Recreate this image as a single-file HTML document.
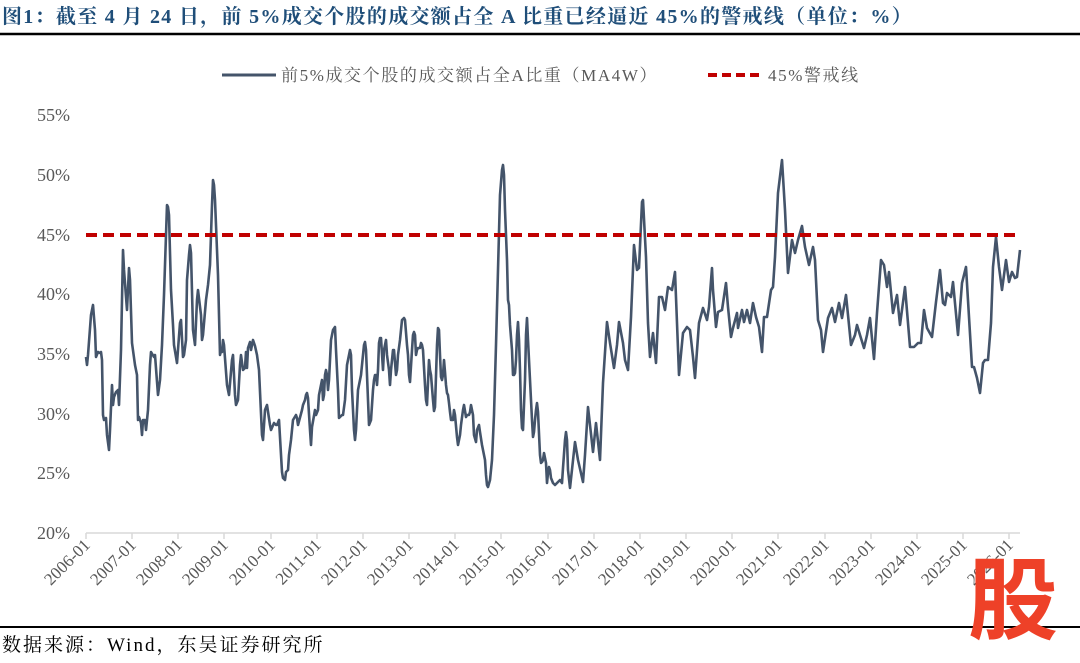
<!DOCTYPE html>
<html><head><meta charset="utf-8"><style>
body{margin:0;background:#fff;width:1080px;height:658px;overflow:hidden;}
</style></head><body>
<svg width="1080" height="658" viewBox="0 0 1080 658" xmlns="http://www.w3.org/2000/svg" font-family="'Liberation Serif','Noto Serif CJK SC',serif">
<text x="2" y="23" font-size="20" font-weight="bold" fill="#1F4E79" letter-spacing="1.3">图1：截至 4 月 24 日，前 5%成交个股的成交额占全 A 比重已经逼近 45%的警戒线（单位：%）</text>
<line x1="0" y1="34" x2="1080" y2="34" stroke="#000" stroke-width="2.5"/>
<line x1="0" y1="627" x2="1080" y2="627" stroke="#000" stroke-width="2"/>
<text x="2" y="651" font-size="19" fill="#000" letter-spacing="2">数据来源：Wind，东吴证券研究所</text>
<line x1="222" y1="75" x2="276" y2="75" stroke="#44546A" stroke-width="3"/>
<text x="281" y="81" font-size="17" fill="#595959" letter-spacing="1.6">前5%成交个股的成交额占全A比重（MA4W）</text>
<line x1="708" y1="75" x2="762" y2="75" stroke="#C00000" stroke-width="4" stroke-dasharray="9,5"/>
<text x="768" y="81" font-size="17" fill="#595959" letter-spacing="1.6">45%警戒线</text>
<g font-size="18" fill="#595959" text-anchor="end">
<text x="70" y="539">20%</text><text x="70" y="479">25%</text><text x="70" y="420">30%</text><text x="70" y="360">35%</text><text x="70" y="300">40%</text><text x="70" y="241">45%</text><text x="70" y="181">50%</text><text x="70" y="121">55%</text>
</g>
<line x1="86" y1="533" x2="1020" y2="533" stroke="#D9D9D9" stroke-width="1.5"/>
<g stroke="#D9D9D9" stroke-width="1.5">
<line x1="86" y1="533" x2="86" y2="539"/><line x1="132" y1="533" x2="132" y2="539"/><line x1="178" y1="533" x2="178" y2="539"/><line x1="224" y1="533" x2="224" y2="539"/><line x1="271" y1="533" x2="271" y2="539"/><line x1="317" y1="533" x2="317" y2="539"/><line x1="363" y1="533" x2="363" y2="539"/><line x1="409" y1="533" x2="409" y2="539"/><line x1="455" y1="533" x2="455" y2="539"/><line x1="501" y1="533" x2="501" y2="539"/><line x1="548" y1="533" x2="548" y2="539"/><line x1="594" y1="533" x2="594" y2="539"/><line x1="640" y1="533" x2="640" y2="539"/><line x1="686" y1="533" x2="686" y2="539"/><line x1="732" y1="533" x2="732" y2="539"/><line x1="778" y1="533" x2="778" y2="539"/><line x1="825" y1="533" x2="825" y2="539"/><line x1="871" y1="533" x2="871" y2="539"/><line x1="917" y1="533" x2="917" y2="539"/><line x1="963" y1="533" x2="963" y2="539"/><line x1="1009" y1="533" x2="1009" y2="539"/>
</g>
<g font-size="17" fill="#595959" text-anchor="end">
<text transform="translate(91,546) rotate(-45)">2006-01</text>
<text transform="translate(137,546) rotate(-45)">2007-01</text>
<text transform="translate(183,546) rotate(-45)">2008-01</text>
<text transform="translate(229,546) rotate(-45)">2009-01</text>
<text transform="translate(276,546) rotate(-45)">2010-01</text>
<text transform="translate(322,546) rotate(-45)">2011-01</text>
<text transform="translate(368,546) rotate(-45)">2012-01</text>
<text transform="translate(414,546) rotate(-45)">2013-01</text>
<text transform="translate(460,546) rotate(-45)">2014-01</text>
<text transform="translate(506,546) rotate(-45)">2015-01</text>
<text transform="translate(553,546) rotate(-45)">2016-01</text>
<text transform="translate(599,546) rotate(-45)">2017-01</text>
<text transform="translate(645,546) rotate(-45)">2018-01</text>
<text transform="translate(691,546) rotate(-45)">2019-01</text>
<text transform="translate(737,546) rotate(-45)">2020-01</text>
<text transform="translate(783,546) rotate(-45)">2021-01</text>
<text transform="translate(830,546) rotate(-45)">2022-01</text>
<text transform="translate(876,546) rotate(-45)">2023-01</text>
<text transform="translate(922,546) rotate(-45)">2024-01</text>
<text transform="translate(968,546) rotate(-45)">2025-01</text>
<text transform="translate(1014,546) rotate(-45)">2026-01</text>
</g>
<polyline fill="none" stroke="#44546A" stroke-width="2.6" stroke-linejoin="round" points="86,357 87,365 88,355 91,315 93,305 95,330 96,357 98,352 100,353 101,352 102,360 103,415 104,420 106,418 107,435 109,450 110,430 112,385 113,405 114,397 116,392 118,390 119,405 121,350 123,250 124,270 127,310 129,268 130,280 132,343 135,365 137,375 138,420 139,417 141,423 142,435 143,420 145,420 146,430 148,410 150,365 151,352 154,357 155,355 158,395 160,380 162,345 164,295 167,205 168,207 169,215 171,290 173,325 174,345 177,363 180,323 181,320 183,357 184,355 186,340 187,280 189,255 190,245 191,253 193,330 195,345 197,300 198,290 201,315 202,340 203,335 206,300 208,285 210,265 212,205 213,180 214,185 215,200 218,275 220,355 221,350 222,352 223,340 224,345 227,385 229,395 232,360 233,355 235,395 236,405 238,400 240,365 241,355 243,370 245,368 246,352 247,368 248,348 250,342 251,350 253,340 255,346 257,355 259,370 262,435 263,440 265,410 267,405 270,425 271,430 274,423 276,425 277,425 279,420 282,472 283,478 285,480 286,472 288,470 289,455 291,440 293,420 296,415 297,418 298,425 302,410 303,405 305,400 306,395 307,393 308,398 310,430 311,445 312,427 315,410 316,415 318,410 319,395 322,380 323,400 324,395 325,375 326,370 327,375 328,390 329,380 331,340 333,330 335,327 336,350 338,390 339,418 340,417 342,415 343,415 345,400 347,365 349,355 350,350 351,355 352,390 354,430 355,440 356,430 358,390 361,375 363,355 364,345 365,342 366,350 368,400 369,425 371,420 373,390 374,380 375,375 376,375 377,385 378,370 379,343 380,338 381,338 383,370 384,350 386,340 387,355 389,370 390,385 391,370 392,360 393,350 394,350 396,375 397,370 398,355 400,340 402,320 404,318 405,320 407,345 408,355 409,375 410,382 412,350 413,335 414,332 415,335 416,355 417,350 418,348 420,348 421,343 422,345 423,350 425,385 426,400 427,405 429,360 430,370 431,375 433,400 434,411 435,407 437,345 438,328 439,330 440,355 441,377 442,380 443,375 444,360 445,372 446,385 447,393 448,395 449,403 450,412 451,420 453,420 454,410 455,415 457,437 458,445 460,435 461,425 463,410 464,405 466,417 467,415 469,415 470,412 471,405 473,415 474,435 476,442 477,430 479,425 480,432 482,445 484,455 485,460 486,475 487,485 488,487 490,480 492,460 494,415 496,345 498,270 500,195 502,170 503,165 504,175 505,210 507,260 508,300 509,305 510,325 512,350 513,375 514,375 515,373 516,360 517,335 518,322 519,340 520,370 521,410 522,428 523,430 525,380 526,335 527,318 528,340 530,380 532,420 533,437 534,432 535,420 536,410 537,403 538,412 540,455 541,463 542,462 543,460 544,453 546,463 547,483 548,473 549,467 550,470 551,478 553,483 555,485 558,482 560,480 562,483 563,468 565,440 566,432 567,440 568,470 570,488 575,442 578,460 583,482 585,455 588,407 593,452 596,423 600,460 603,383 607,322 610,343 614,368 617,345 619,322 623,343 625,360 628,370 631,317 634,245 637,270 639,268 642,202 643,200 646,257 648,323 650,357 653,333 656,363 659,297 662,297 665,310 668,287 672,290 675,272 677,323 679,375 683,333 687,327 690,330 693,357 695,378 699,323 703,308 707,320 709,307 712,268 713,290 716,327 718,312 722,310 726,283 728,307 731,337 733,328 737,313 738,328 742,310 744,322 747,310 750,323 753,303 756,317 759,327 762,352 764,317 767,317 771,290 773,287 775,257 778,193 782,160 785,210 788,273 792,240 795,253 798,240 802,226 805,247 809,265 813,247 815,260 818,320 821,330 823,352 828,318 832,308 835,322 839,303 842,318 846,295 851,345 855,335 857,325 860,335 864,348 867,335 870,318 874,359 877,313 881,260 884,265 887,287 889,272 893,313 897,295 900,325 905,287 910,347 914,347 918,343 921,343 924,310 927,328 932,337 936,302 940,270 943,303 945,305 947,293 951,297 953,282 958,335 962,283 966,267 972,367 974,367 977,378 980,393 983,363 985,360 988,360 991,323 993,267 996,237 999,267 1002,290 1006,260 1009,282 1012,272 1015,278 1017,277 1020,250"/>
<line x1="86" y1="235" x2="1020" y2="235" stroke="#C00000" stroke-width="4" stroke-dasharray="11,6"/>
<text x="1013" y="632" font-size="90" font-weight="bold" fill="#EE4128" text-anchor="middle" font-family="'Noto Sans CJK SC',sans-serif">股</text>
</svg>
</body></html>
